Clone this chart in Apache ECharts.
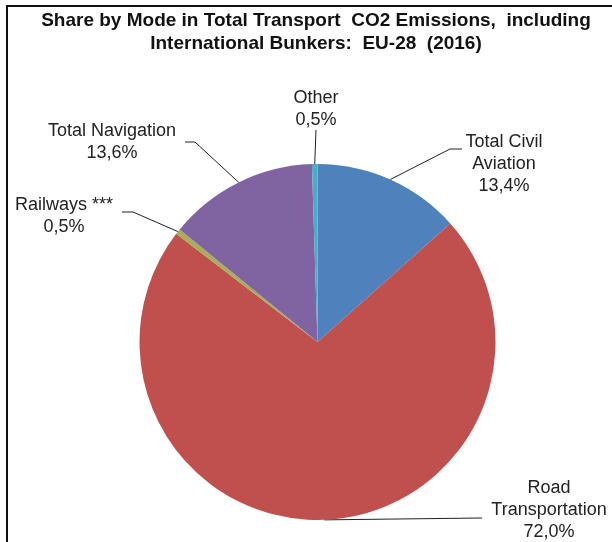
<!DOCTYPE html>
<html>
<head>
<meta charset="utf-8">
<script src="https://cdn.jsdelivr.net/npm/echarts@6/dist/echarts.min.js"></script>
<style>
  html, body { margin: 0; padding: 0; background: #fff; }
  #chart { width: 612px; height: 542px; }
</style>
</head>
<body>
<div id="chart"></div>
<script>
// 数据
var modes = ['Total Civil\nAviation', 'Road\nTransportation', 'Railways ***', 'Total Navigation', 'Other'];
var shares = [13.4, 72.0, 0.5, 13.6, 0.5];
var colors = ['#4f81bd', '#c0504d', '#a8ae58', '#8064a2', '#4bacc6'];

// 标签位置（文字中心x、顶部y、折线拐点）
var labelSpots = [
  { x: 504, y: 131, pts: [[450, 149], [462, 149]] },
  { x: 549, y: 477, pts: [[482, 518], [482, 518]] },
  { x: 64, y: 194, pts: [[133, 212], [122, 212]] },
  { x: 112, y: 120, pts: [[195, 142], [185, 142]] },
  { x: 316, y: 87, pts: [[316, 130], [316, 130]] }
];

var chart = echarts.init(document.getElementById('chart'));

var option = {
  animation: false,
  backgroundColor: '#fff',
  title: {
    text: 'Share by Mode in Total Transport  CO2 Emissions,  including\nInternational Bunkers:  EU-28  (2016)',
    left: 316,
    top: 9,
    padding: 0,
    textAlign: 'center',
    textStyle: {
      fontFamily: 'Liberation Sans',
      fontSize: 19,
      fontWeight: 'bold',
      color: '#111',
      lineHeight: 23
    }
  },
  graphic: [
    { type: 'line', shape: { x1: 7, y1: 6, x2: 7, y2: 542 }, style: { stroke: '#111', lineWidth: 2 } },
    { type: 'line', shape: { x1: 6, y1: 6, x2: 612, y2: 6 }, style: { stroke: '#111', lineWidth: 2 } }
  ],
  series: [{
    type: 'pie',
    center: [317.5, 342],
    radius: 178,
    startAngle: 90,
    clockwise: true,
    avoidLabelOverlap: false,
    color: colors,
    itemStyle: { borderWidth: 0 },
    label: {
      show: true,
      position: 'outside',
      fontFamily: 'Liberation Sans',
      fontSize: 18,
      lineHeight: 22,
      color: '#222',
      align: 'center',
      formatter: function (p) {
        return p.name + '\n' + p.value.toFixed(1).replace('.', ',') + '%';
      }
    },
    labelLine: {
      show: true,
      length: 10,
      length2: 10,
      lineStyle: { color: '#222', width: 1 }
    },
    labelLayout: function (params) {
      var s = labelSpots[params.dataIndex];
      var start = params.labelLinePoints ? params.labelLinePoints[0] : s.pts[0];
      return {
        x: s.x,
        y: s.y,
        align: 'center',
        verticalAlign: 'top',
        labelLinePoints: [start, s.pts[0], s.pts[1]]
      };
    },
    data: modes.map(function (m, i) {
      return { name: m, value: shares[i] };
    })
  }]
};

chart.setOption(option);
</script>
</body>
</html>
